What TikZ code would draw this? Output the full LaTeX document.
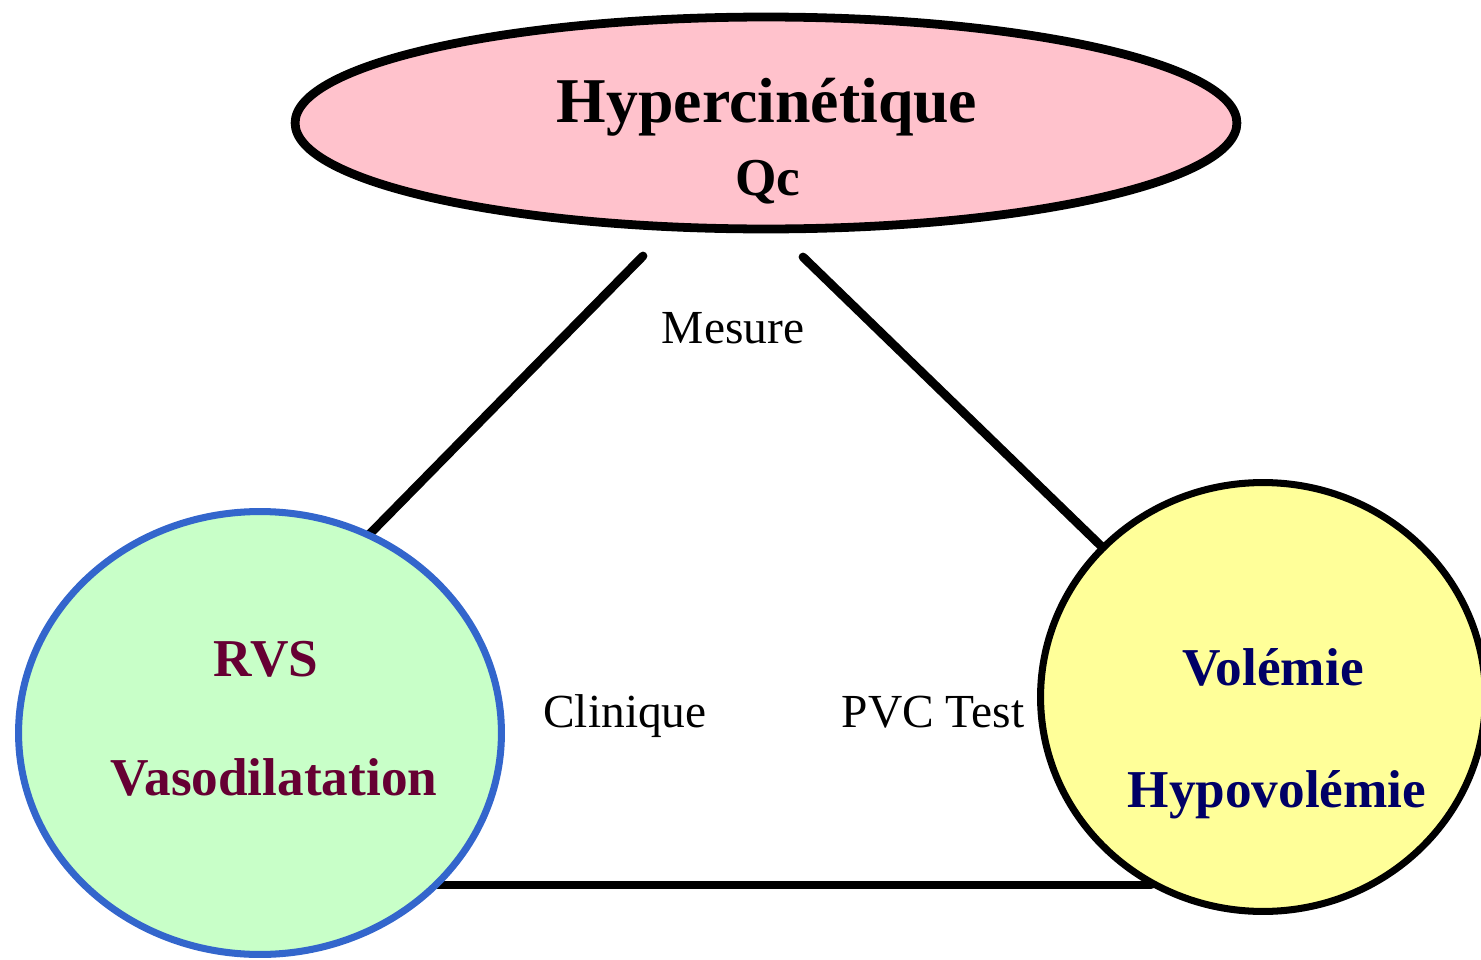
\documentclass[tikz,border=0pt]{standalone}
\usepackage{fontspec}
\setmainfont{Liberation Serif}
\usetikzlibrary{shapes.geometric,backgrounds}
\definecolor{pinkfill}{RGB}{255,194,204}
\definecolor{greenfill}{RGB}{200,255,200}
\definecolor{yellowfill}{RGB}{255,255,153}
\definecolor{rvsblue}{RGB}{51,102,204}
\definecolor{maroontxt}{RGB}{102,0,51}
\definecolor{navytxt}{RGB}{0,0,102}
\begin{document}
\begin{tikzpicture}[x=0.02cm,y=-0.02cm,
  bubble/.style={ellipse,inner sep=0pt},
  link/.style={line width=5pt,line cap=round},
  big/.style={font=\fontsize{36.3}{40}\selectfont\bfseries,anchor=base},
  title/.style={font=\fontsize{30.3}{34}\selectfont\bfseries,anchor=base},
  tag/.style={font=\fontsize{27}{30}\selectfont,anchor=base}]
\useasboundingbox (0,0) rectangle (1481,960);

% the three bubbles
\node[bubble,draw,line width=5pt,fill=pinkfill,
      minimum width=18.84cm,minimum height=4.24cm] (hyper) at (766,123) {};
\node[bubble,draw=rvsblue,line width=4pt,fill=greenfill,
      minimum width=9.66cm,minimum height=8.86cm] (rvs) at (260,733) {};
\node[bubble,draw,line width=4pt,fill=yellowfill,
      minimum width=8.9cm,minimum height=8.58cm] (vol) at (1263,697) {};

% bubble texts
\node[big] (thyper) at (767,122) {Hypercinétique};
\node[title] (tqc) at (768,195) {Qc};
\node[title,text=maroontxt] (trvs) at (266,676) {RVS};
\node[title,text=maroontxt] (tvaso) at (274,795) {Vasodilatation};
\node[title,text=navytxt] (tvol) at (1273,685) {Volémie};
\node[title,text=navytxt] (thypo) at (1277,807) {Hypovolémie};

% side labels
\node[tag] (lmes) at (733,343) {Mesure};
\node[tag] (lcli) at (625,727) {Clinique};
\node[tag] (lpvc) at (933,727) {PVC Test};

% free ends of the connectors
\coordinate (m1) at (643,256);
\coordinate (m2) at (803,257);
\coordinate (b1) at (1151,885);

\begin{scope}[on background layer]
  \draw[link,shorten >=-8pt] (m1) -- (rvs.61);
  \draw[link,shorten >=-8pt] (m2) -- (vol.137);
  \draw[link] (rvs.center |- b1) -- (b1);
\end{scope}
\end{tikzpicture}
\end{document}
